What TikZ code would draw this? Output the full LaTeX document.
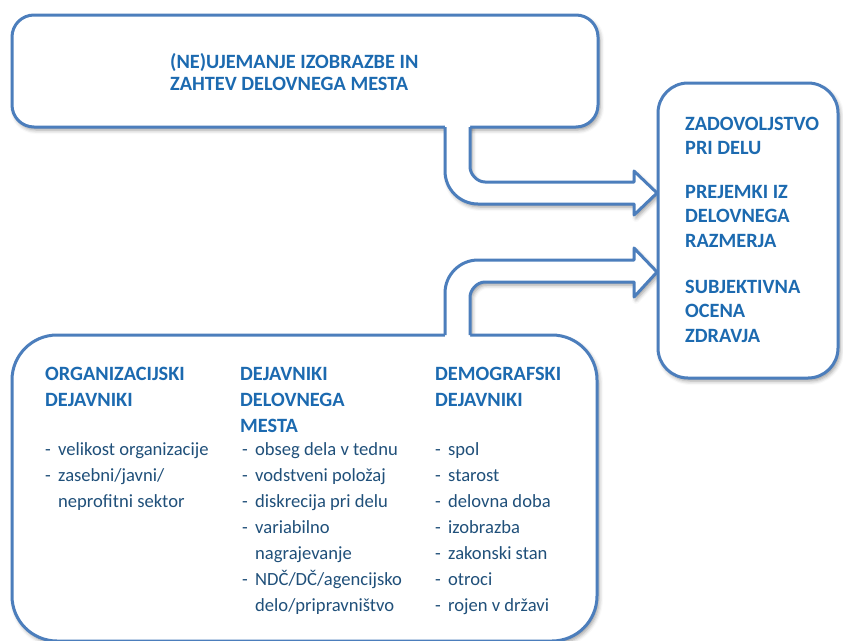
\documentclass[tikz,border=0pt]{standalone}
\usepackage{fontspec}
\setmainfont{Carlito}
\usetikzlibrary{shadows.blur}
\definecolor{frame}{RGB}{76,126,188}
\definecolor{headblue}{RGB}{28,106,176}
\definecolor{bodyblue}{RGB}{32,80,122}
% one-column stack whose baseline is that of its first row
\newcommand\stack[1]{\begin{tabular}[t]{@{}l@{}}#1\end{tabular}}
\newcommand\dashitem{\makebox[13pt][l]{-}}
\newcommand\contitem{\hspace*{13pt}}
\begin{document}
\begin{tikzpicture}[x=1pt,y=-1pt,
  soft/.style={blur shadow={shadow xshift=2pt,shadow yshift=-3pt,shadow blur radius=4pt,shadow opacity=40}},
  panel/.style={draw=frame,line width=3pt,fill=white,inner sep=0pt,soft},
  outline/.style={draw=frame,line width=3pt,line join=round},
  head/.style={font=\bfseries\fontsize{20.3}{24.5}\selectfont,text=headblue,inner sep=0pt,anchor=base west},
  headtop/.style={head,font=\bfseries\fontsize{20.3}{22.5}\selectfont},
  headlow/.style={head,font=\bfseries\fontsize{20.3}{26}\selectfont},
  listtext/.style={font=\fontsize{18.6}{26}\selectfont,text=bodyblue,inner sep=0pt,anchor=base west}]
\useasboundingbox (0,0) rectangle (843,640);

% shadows of the two bent arrows
\path[fill=white,soft] (445,122) -- (445,171) .. controls (445,189.2) and (459.8,204) .. (478,204)
  -- (634,204) -- (634,215) -- (657,193) -- (634,171) -- (634,182) -- (485,182)
  .. controls (476.7,182) and (470,173.7) .. (470,167) -- (470,122) -- cycle;
\path[fill=white,soft] (445,340) -- (445,293) .. controls (445,274.8) and (459.8,260) .. (478,260)
  -- (634,260) -- (634,248) -- (657,272) -- (634,297) -- (634,282) -- (485,282)
  .. controls (476.7,282) and (470,290.3) .. (470,297) -- (470,340) -- cycle;

% panels
\node[panel,rounded corners=22pt,minimum width=586pt,minimum height=112pt] (topbox) at (305,71) {};
\node[panel,rounded corners=30pt,minimum width=180pt,minimum height=295pt] (outbox) at (748,230.5) {};
\node[panel,rounded corners=45pt,minimum width=585pt,minimum height=306pt] (factbox) at (304.5,488) {};

% arrow bodies opening into the panels
\fill[white] (445,122) -- (445,171) .. controls (445,189.2) and (459.8,204) .. (478,204)
  -- (634,204) -- (634,215) -- (657,193) -- (634,171) -- (634,182) -- (485,182)
  .. controls (476.7,182) and (470,173.7) .. (470,167) -- (470,122) -- cycle;
\fill[white] (445,340) -- (445,293) .. controls (445,274.8) and (459.8,260) .. (478,260)
  -- (634,260) -- (634,248) -- (657,272) -- (634,297) -- (634,282) -- (485,282)
  .. controls (476.7,282) and (470,290.3) .. (470,297) -- (470,340) -- cycle;
\path[outline] (445,127) -- (445,171) .. controls (445,189.2) and (459.8,204) .. (478,204)
  -- (634,204) -- (634,215) -- (657,193) -- (634,171) -- (634,182) -- (485,182)
  .. controls (476.7,182) and (470,173.7) .. (470,167) -- (470,127);
\path[outline] (445,335) -- (445,293) .. controls (445,274.8) and (459.8,260) .. (478,260)
  -- (634,260) -- (634,248) -- (657,272) -- (634,297) -- (634,282) -- (485,282)
  .. controls (476.7,282) and (470,290.3) .. (470,297) -- (470,335);

% top panel
\node[headtop] (mismatch) at (170,68) {\stack{(NE)UJEMANJE IZOBRAZBE IN\\ZAHTEV DELOVNEGA MESTA}};

% outcomes
\node[head] (satisf) at (685,130) {\stack{ZADOVOLJSTVO\\PRI DELU}};
\node[head] (income) at (685,198) {\stack{PREJEMKI IZ\\DELOVNEGA\\RAZMERJA}};
\node[head] (health) at (685,293) {\stack{SUBJEKTIVNA\\OCENA\\ZDRAVJA}};

% factor groups
\node[headlow] (orghead) at (45,380) {\stack{ORGANIZACIJSKI\\DEJAVNIKI}};
\node[headlow] (jobhead) at (240,380) {\stack{DEJAVNIKI\\DELOVNEGA\\MESTA}};
\node[headlow] (demhead) at (435,380) {\stack{DEMOGRAFSKI\\DEJAVNIKI}};

\node[listtext] (orglist) at (45,455) {\stack{\dashitem velikost organizacije\\
  \dashitem zasebni/javni/\\
  \contitem neprofitni sektor}};
\node[listtext] (joblist) at (242,455) {\stack{\dashitem obseg dela v tednu\\
  \dashitem vodstveni položaj\\
  \dashitem diskrecija pri delu\\
  \dashitem variabilno\\
  \contitem nagrajevanje\\
  \dashitem NDČ/DČ/agencijsko\\
  \contitem delo/pripravništvo}};
\node[listtext] (demlist) at (435,455) {\stack{\dashitem spol\\
  \dashitem starost\\
  \dashitem delovna doba\\
  \dashitem izobrazba\\
  \dashitem zakonski stan\\
  \dashitem otroci\\
  \dashitem rojen v državi}};
\end{tikzpicture}
\end{document}
